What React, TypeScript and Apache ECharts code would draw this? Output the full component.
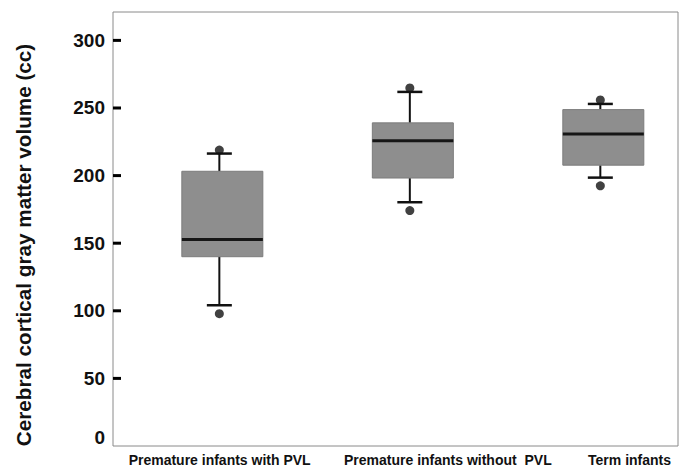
import React, { useEffect, useRef } from "react";
import * as echarts from "echarts";

// ---- data ----
const categories = [
  "Premature infants with PVL",
  "Premature infants without  PVL",
  "Term infants",
];
const groupPositions = [1, 2, 3];
const whiskerLow = [104.1, 180.3, 198.5];
const q1 = [140.0, 198.2, 207.7];
const median = [152.8, 225.7, 230.7];
const q3 = [203.2, 239.0, 248.8];
const whiskerHigh = [216.3, 261.9, 253.0];
const outlierHigh = [218.9, 264.8, 256.0];
const outlierLow = [97.9, 174.1, 192.4];
const yTicks = [0, 50, 100, 150, 200, 250, 300];

// ---- layout / styling constants ----
const FONT = "'Liberation Sans', Arial, Helvetica, sans-serif";
const BOX_W = 81;
const CAP_W = 25;
const WHISKER_DX = -3;
const TICK_LEN = 8;
const TICK_H = 3;
const X_MIN = 0.426;
const X_MAX = 3.392;
const GRID_LEFT = 113;
const GRID_RIGHT = 1;
const CHART_W = 679;
// horizontal offsets (px) of each category label from its box centre
const LABEL_DX = [-2.7, 35, 26.2];

export default function App() {
  const ref = useRef<HTMLDivElement>(null);

  useEffect(() => {
    if (!ref.current) return;
    const chart = echarts.init(ref.current, undefined, { renderer: "svg" });

    const boxData = groupPositions.map((x, i) => [
      x,
      whiskerLow[i],
      q1[i],
      median[i],
      q3[i],
      whiskerHigh[i],
    ]);
    const outlierData: number[][] = [];
    groupPositions.forEach((x, i) => {
      outlierData.push([x, outlierHigh[i]]);
      outlierData.push([x, outlierLow[i]]);
    });

    const unitPerPx = (X_MAX - X_MIN) / (CHART_W - GRID_LEFT - GRID_RIGHT);
    const labelValues = groupPositions.map((p, i) => p + LABEL_DX[i] * unitPerPx);

    chart.setOption({
      animation: false,
      backgroundColor: "#fff",
      grid: {
        left: GRID_LEFT,
        right: GRID_RIGHT,
        top: 12,
        bottom: 21,
        show: true,
        borderColor: "#8a8a8a",
        borderWidth: 1,
        backgroundColor: "transparent",
      },
      xAxis: {
        type: "value",
        min: X_MIN,
        max: X_MAX,
        axisLine: { show: false },
        axisTick: { show: false },
        splitLine: { show: false },
        axisLabel: {
          customValues: labelValues,
          showMinLabel: true,
          showMaxLabel: true,
          margin: 6,
          fontFamily: FONT,
          fontWeight: "bold",
          fontSize: 14,
          color: "#111",
          lineHeight: 16,
          formatter: (v: number) => {
            let best = 0;
            labelValues.forEach((lv, i) => {
              if (Math.abs(lv - v) < Math.abs(labelValues[best] - v)) best = i;
            });
            return categories[best];
          },
        },
      },
      yAxis: {
        type: "value",
        min: 0,
        max: 321,
        interval: 50,
        name: "Cerebral cortical gray matter volume (cc)",
        nameLocation: "middle",
        nameGap: 79,
        nameTextStyle: {
          fontFamily: FONT,
          fontWeight: "bold",
          fontSize: 20.7,
          color: "#111",
          padding: [0, 32, 0, 0],
        },
        axisLine: { show: false },
        splitLine: { show: false },
        axisTick: { show: false },
        axisLabel: {
          showMaxLabel: false,
          margin: 8,
          fontFamily: FONT,
          fontWeight: "bold",
          fontSize: 19,
          color: "#111",
          formatter: (v: number) =>
            v === 0 ? "{z|0}" : v % 50 === 0 ? String(v) : "",
          rich: {
            z: {
              fontFamily: FONT,
              fontWeight: "bold",
              fontSize: 19,
              color: "#111",
              padding: [0, 0, 18, 0],
            },
          },
        },
      },
      series: [
        {
          type: "custom",
          data: boxData,
          encode: { x: 0, y: [1, 2, 3, 4, 5] },
          clip: false,
          renderItem: (params: any, api: any) => {
            const x = api.value(0);
            const pLow = api.coord([x, api.value(1)]);
            const pQ1 = api.coord([x, api.value(2)]);
            const pMed = api.coord([x, api.value(3)]);
            const pQ3 = api.coord([x, api.value(4)]);
            const pHigh = api.coord([x, api.value(5)]);
            const cx = pMed[0];
            const wx = cx + WHISKER_DX;
            const lineStyle = { stroke: "#111", lineWidth: 2 };
            const capStyle = { stroke: "#111", lineWidth: 2.5 };
            const children: any[] = [];
            // inward y-axis ticks, drawn once through the y scale
            if (params.dataIndex === 0) {
              const x0 = api.coord([X_MIN, 0])[0];
              yTicks.forEach((t) => {
                if (t <= 0) return;
                const ty = api.coord([X_MIN, t])[1];
                children.push({
                  type: "rect",
                  shape: {
                    x: x0,
                    y: ty - TICK_H / 2,
                    width: TICK_LEN,
                    height: TICK_H,
                  },
                  style: { fill: "#000" },
                });
              });
            }
            children.push(
              {
                type: "line",
                shape: { x1: wx, y1: pHigh[1], x2: wx, y2: pQ3[1] },
                style: lineStyle,
              },
              {
                type: "line",
                shape: { x1: wx, y1: pQ1[1], x2: wx, y2: pLow[1] },
                style: lineStyle,
              },
              {
                type: "line",
                shape: {
                  x1: wx - CAP_W / 2,
                  y1: pHigh[1],
                  x2: wx + CAP_W / 2,
                  y2: pHigh[1],
                },
                style: capStyle,
              },
              {
                type: "line",
                shape: {
                  x1: wx - CAP_W / 2,
                  y1: pLow[1],
                  x2: wx + CAP_W / 2,
                  y2: pLow[1],
                },
                style: capStyle,
              },
              {
                type: "rect",
                shape: {
                  x: cx - BOX_W / 2,
                  y: pQ3[1],
                  width: BOX_W,
                  height: pQ1[1] - pQ3[1],
                },
                style: { fill: "#8e8e8e", stroke: "#7c7c7c", lineWidth: 1 },
              },
              {
                type: "line",
                shape: {
                  x1: cx - BOX_W / 2,
                  y1: pMed[1],
                  x2: cx + BOX_W / 2,
                  y2: pMed[1],
                },
                style: { stroke: "#161616", lineWidth: 3 },
              }
            );
            return { type: "group", children };
          },
          z: 2,
        },
        {
          type: "scatter",
          data: outlierData,
          symbol: "circle",
          symbolSize: 9,
          symbolOffset: [WHISKER_DX, 0],
          itemStyle: { color: "#111" },
          z: 3,
        },
      ],
    });

    return () => chart.dispose();
  }, []);

  return (
    <div
      ref={ref}
      style={{
        position: "fixed",
        left: 0,
        top: 0,
        width: 679,
        height: 468,
        background: "#fff",
      }}
    />
  );
}
